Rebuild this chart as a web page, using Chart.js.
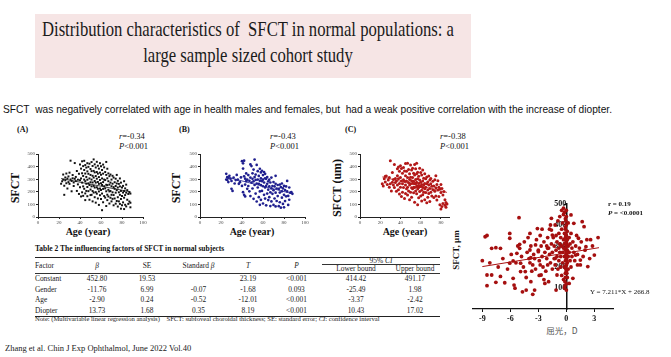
<!DOCTYPE html>
<html><head><meta charset="utf-8">
<script src="https://cdn.jsdelivr.net/npm/chart.js@4/dist/chart.umd.min.js"></script>
<style>
html,body{margin:0;padding:0;background:#fff;}
body{width:671px;height:357px;position:relative;overflow:hidden;font-family:"Liberation Serif",serif;color:#111;}
.abs{position:absolute;white-space:nowrap;}
canvas{position:absolute;}
.serif{font-family:"Liberation Serif",serif;}
.lab{font-weight:bold;font-size:12px;}
.stat{font-size:8.5px;line-height:10px;}
table{border-collapse:collapse;table-layout:fixed;font-family:"Liberation Serif",serif;font-size:7.4px;color:#1a1a1a;}
td{padding:0;text-align:center;height:10.5px;line-height:10px;}
</style></head>
<body>
<div class="abs" style="left:35px;top:14px;width:436px;height:64px;background:#f6e5e5;"></div>
<div id="t1" class="abs serif" style="left:248px;top:17px;font-size:21.5px;color:#1a1a1a;">Distribution characteristics of&nbsp; SFCT in normal populations: a</div>
<div id="t2" class="abs serif" style="left:248px;top:43px;font-size:21.5px;color:#1a1a1a;">large sample sized cohort study</div>
<div id="sub" class="abs" style="left:3px;top:103px;font-family:'Liberation Sans',sans-serif;font-size:11px;color:#111;">SFCT&nbsp; was negatively correlated with age in health males and females, but&nbsp; had a weak positive correlation with the increase of diopter.</div>

<div class="abs serif" style="left:17px;top:125px;font-size:8px;font-weight:bold;">(A)</div>
<div class="abs serif" style="left:179px;top:125px;font-size:8px;font-weight:bold;">(B)</div>
<div class="abs serif" style="left:345px;top:125px;font-size:8px;font-weight:bold;">(C)</div>

<div class="abs serif stat" style="left:119px;top:131px;"><i>r</i>=-0.34<br><i>P</i>&lt;0.001</div>
<div class="abs serif stat" style="left:270px;top:131px;"><i>r</i>=-0.43<br><i>P</i>&lt;0.001</div>
<div class="abs serif stat" style="left:440px;top:131px;"><i>r</i>=-0.38<br><i>P</i>&lt;0.001</div>

<div class="abs serif lab" style="left:15px;top:188px;transform:translate(-50%,-50%) rotate(-90deg);">SFCT</div>
<div class="abs serif lab" style="left:176px;top:188px;transform:translate(-50%,-50%) rotate(-90deg);">SFCT</div>
<div class="abs serif lab" style="left:337px;top:188px;transform:translate(-50%,-50%) rotate(-90deg);">SFCT (um)</div>

<div class="abs serif" style="left:88px;top:226px;font-size:10px;font-weight:bold;transform:translateX(-50%);">Age (year)</div>
<div class="abs serif" style="left:252px;top:226px;font-size:10px;font-weight:bold;transform:translateX(-50%);">Age (year)</div>
<div class="abs serif" style="left:405px;top:226px;font-size:10px;font-weight:bold;transform:translateX(-50%);">Age (year)</div>

<canvas id="cA" width="127" height="76" style="left:22px;top:150px;"></canvas>
<canvas id="cB" width="127" height="76" style="left:184px;top:150px;"></canvas>
<canvas id="cC" width="111" height="76" style="left:344px;top:150px;"></canvas>
<canvas id="cD" width="160" height="125" style="left:463px;top:198px;"></canvas>

<div class="abs serif" style="left:35px;top:244px;font-size:7.5px;font-weight:bold;">Table 2 The influencing factors of SFCT in normal subjects</div>
<div class="abs" style="left:35px;top:257px;">
<table id="tbl" style="width:405px;border-top:1.3px solid #222;border-bottom:1px solid #222;">
<colgroup><col style="width:37px"><col style="width:50px"><col style="width:50px"><col style="width:53px"><col style="width:46px"><col style="width:51px"><col style="width:68px"><col style="width:50px"></colgroup>
<tbody id="tb"></tbody>
</table></div>
<div class="abs serif" style="left:35px;top:315px;font-size:6.6px;color:#222;">Note: (Multivariable linear regression analysis)&nbsp;&nbsp;&nbsp; SFCT: subfoveal choroidal thickness; SE: standard error; <i>CI</i>: confidence interval</div>

<div class="abs serif" style="left:5px;top:343px;font-size:8.5px;color:#222;">Zhang et al. Chin J Exp Ophthalmol, June 2022 Vol.40</div>

<div class="abs serif" style="left:456px;top:250px;font-size:9px;font-weight:bold;transform:translate(-50%,-50%) rotate(-90deg);">SFCT, μm</div>
<div class="abs" style="left:562px;top:324px;font-size:8.5px;color:#555;font-family:'Noto Sans CJK SC',sans-serif;transform:translateX(-50%);">屈光，D</div>
<div class="abs serif" style="left:608px;top:200px;font-size:7px;font-weight:bold;line-height:9px;">r = 0.19<br><i>P</i> = &lt;0.0001</div>
<div class="abs serif" style="left:590px;top:288px;font-size:7px;">Y = 7.211*X + 266.8</div>

<script>
// ---------- data ----------
const ageA = [22,23,24,24,25,25,26,26,27,27,28,28,29,29,30,30,31,31,32,32,33,33,34,34,35,35,36,36,37,37,38,38,39,39,40,
40,40,41,41,41,42,42,42,42,43,43,43,43,44,44,44,44,45,45,45,45,45,46,46,46,46,47,47,47,47,47,48,48,48,48,49,49,49,49,50,50,50,50,50,
51,51,51,51,51,52,52,52,52,52,53,53,53,53,53,54,54,54,54,54,55,55,55,55,55,56,56,56,56,56,57,57,57,57,57,58,58,58,58,58,59,59,59,59,59,60,60,60,60,60,
61,61,61,61,61,62,62,62,62,62,63,63,63,63,64,64,64,64,65,65,65,65,65,66,66,66,66,66,67,67,67,67,68,68,68,68,69,69,69,69,70,70,70,70,
71,71,71,71,72,72,72,72,73,73,73,74,74,74,74,75,75,75,75,76,76,76,76,77,77,77,78,78,78,78,79,79,79,79,80,80,80,
81,81,81,82,82,82,82,83,83,83,84,84,84,85,85,86,86,87,87,88,88,88];
const sfctA = [264,283,296,337,248,176,314,291,345,268,305,226,322,277,352,263,298,447,286,204,333,307,274,246,428,303,285,318,207,365,296,259,343,183,292,
417,236,384,306,163,442,347,273,196,404,326,243,168,446,373,297,224,412,345,284,187,134,392,318,264,207,427,362,296,238,165,398,343,267,205,423,306,254,137,381,334,276,218,174,
436,364,297,243,176,405,327,274,206,124,457,366,313,247,194,418,354,286,234,157,393,325,273,197,114,438,357,304,236,185,407,344,278,224,147,384,317,263,203,96,427,352,294,226,173,402,335,267,214,143,
373,306,254,186,54,416,344,277,223,117,394,297,244,166,357,293,227,154,437,334,256,204,87,383,307,253,177,134,346,284,216,163,324,257,203,107,337,273,206,153,297,244,176,124,
327,264,196,144,313,237,174,93,276,224,147,304,246,193,106,334,266,213,127,287,234,157,83,263,196,124,306,243,176,104,273,207,143,66,234,167,94,
247,194,116,284,206,153,63,227,174,97,257,193,84,213,137,183,104,197,123,186,77,113];
const lineA_x = [22, 88];
const lineA_y = [305, 200];

const ageB = [25,25,26,26,27,27,28,29,30,30,31,32,33,34,35,36,37,38,39,40,40,41,41,41,42,42,42,43,43,43,44,44,45,45,46,46,47,47,48,48,48,49,49,50,50,50,51,51,51,52,52,52,53,53,53,54,54,54,55,55,55,56,56,56,57,57,57,57,58,58,58,58,59,59,59,60,60,60,60,61,61,61,62,62,62,62,63,63,63,64,64,64,65,65,65,66,66,66,67,67,67,68,68,68,69,69,70,70,70,71,71,72,72,72,72,73,73,74,74,75,75,76,76,76,77,77,78,78,78,79,79,80,80,80,81,81,82,82,83,83,84,84,85,85,86,87,88];
const sfctB = [343,297,294,316,312,277,327,304,286,224,207,313,266,293,334,296,263,276,314,247,443,426,384,197,447,323,176,304,257,163,346,284,296,224,333,246,287,204,417,313,166,404,273,347,303,226,376,283,144,456,317,254,337,294,186,413,266,123,364,297,234,326,263,157,383,287,203,97,354,306,253,136,367,284,207,333,296,244,107,357,274,176,343,307,234,146,303,247,93,317,264,186,283,217,134,296,243,157,274,196,87,313,227,124,246,184,277,213,96,243,147,327,264,193,84,226,127,254,166,223,86,257,194,117,237,74,266,204,153,227,104,247,176,77,214,126,243,164,286,203,167,96,234,137,193,197,184];
const lineB_x = [25, 88];
const lineB_y = [318, 185];

const ageC = [22,23,24,25,25,26,27,28,29,29,30,30,31,32,32,33,33,34,34,35,35,36,36,37,37,37,38,38,38,39,39,39,40,40,40,41,41,41,42,42,42,43,43,43,44,44,44,45,45,45,45,46,46,46,47,47,47,47,48,48,48,49,49,49,49,50,50,50,50,51,51,51,51,52,52,52,52,53,53,53,53,54,54,54,54,54,55,55,55,55,56,56,56,56,56,57,57,57,57,57,58,58,58,58,59,59,59,59,60,60,60,60,61,61,61,61,62,62,62,62,63,63,63,64,64,64,64,65,65,65,66,66,66,67,67,67,68,68,68,69,69,69,70,70,70,71,71,72,72,73,73,74,74,75,75,75,76,76,77,77,78,78,79,79,80,80,80,81,81,82,82,83,84,84,85,85,86];
const sfctC = [263,246,304,277,324,326,257,294,237,314,447,264,206,353,276,297,254,417,234,306,273,286,204,383,327,253,396,304,217,364,266,183,406,313,237,384,286,163,347,264,197,393,296,234,366,284,147,424,327,253,186,363,286,224,427,313,236,174,377,273,206,344,297,253,137,413,316,264,197,374,287,233,157,386,314,267,224,347,284,236,193,416,334,266,234,117,383,297,263,206,427,344,276,243,184,356,304,247,223,97,323,266,234,153,387,294,246,203,354,276,243,166,334,257,213,127,373,286,234,177,307,254,196,343,266,224,137,303,237,194,317,263,114,277,214,157,326,254,187,294,226,124,306,263,197,244,166,283,217,247,154,296,204,327,233,166,257,134,287,214,236,163,224,97,257,194,63,227,84,174,107,203,137,94,116,77,104];
const lineC_x = [22, 86];
const lineC_y = [318, 195];

const refrD = [-8.7,-8.5,-9.0,-8.5,-8.5,-8.0,-8.0,-7.55,-7.55,-7.06,-7.06,-6.6,-6.06,-6.06,-6.06,-5.7,-5.7,-5.6,-5.5,-5.07,-5.0,-5.0,-5.3,-4.9,-4.9,-4.7,-4.4,-4.3,-3.9,-3.9,-3.8,-3.6,-3.8,-3.4,-3.1,-3.3,-3.0,-2.8,-2.7,-2.3,-2.0,-1.6,-1.6,-1.5,-1.2,-1.0,-1.1,-0.5,-0.3,-0.2,0.5,0.8,1.3,1.7,1.9,1.0,1.2,1.5,2.1,2.6,3.0,3.4,2.3,0.7,0.3,
-4.0,-3.8,-3.6,-3.5,-3.3,-3.2,-3.0,-2.9,-2.8,-2.7,-2.6,-2.5,-2.4,-2.3,-2.2,-2.1,-2.0,-2.0,-1.9,-1.8,-1.8,-1.7,-1.6,-1.5,-1.5,-1.4,-1.3,-1.3,-1.2,-1.2,-1.1,-1.1,-1.0,-1.0,-0.9,-0.9,-0.8,-0.8,-0.8,-0.7,-0.7,-0.7,-0.6,-0.6,-0.6,-0.5,-0.5,-0.5,-0.4,-0.4,-0.4,-0.3,-0.3,-0.3,-0.3,-0.2,-0.2,-0.2,-0.2,-0.2,-0.1,-0.1,-0.1,-0.1,-0.1,-0.1,0,0,0,0,0,0,0,0,0,0,0,0.1,0.1,0.1,0.1,0.1,0.2,0.2,0.2,0.2,0.3,0.3,0.4,0.4,0.5,0.5,0.6,0.6,0.7,0.8,0.9,1.0,1.1,1.2,1.4,1.5,1.6,1.8,2.0,2.2,2.5,2.8,
-8.2,-7.3,-6.8,-6.3,-5.9,-5.4,-5.2,-4.8,-4.6,-4.5,-4.3,-4.2,-4.1,-3.9,-3.7,-3.4,-2.9,-2.6,-2.4,-2.1,-1.9,-1.7,
-0.15,-0.1,-0.05,0,0.05,-0.15,-0.1,-0.05,0,0.05,-0.15,-0.1,-0.05,0,0.05,-0.1,0,-0.05,-0.1,0];
const sfctD = [344,350,230,162,111,162,289,292,127,289,155,125,360,337,218,229,146,114,99,435,308,289,265,218,178,82,178,90,360,281,244,70,130,90,383,305,273,210,162,122,289,432,376,352,241,162,90,470,480,460,448,408,337,416,392,257,210,233,297,330,257,340,202,146,122,
240,300,210,260,190,330,280,230,350,300,250,200,320,270,180,240,340,210,290,260,380,220,310,270,190,340,240,300,400,210,280,350,250,320,420,190,290,360,230,310,270,440,200,340,250,380,300,160,270,410,220,330,290,140,450,360,250,310,200,100,390,280,230,340,170,430,300,260,350,210,120,470,400,180,240,320,90,280,370,220,330,150,300,250,410,190,340,270,230,310,360,200,290,250,320,270,230,300,350,260,290,210,320,250,280,330,240,300,
220,200,240,190,260,220,300,250,200,320,150,270,340,220,180,240,160,380,140,300,130,400,
110,150,190,260,310,330,380,420,210,170,130,290,350,440,230,200,270,310,360,250];
const lineD_x = [-9, 3.5];
const lineD_y = [202, 292];

const tickAgeAB = [0,20,40,60,80,100];
const tickAgeC = [0,20,40,60,80];
const tickSfct = [0,100,200,300,400,500];
const tickRefr = [-9,-6,-3,0,3];
const tickSfctD = [100,200,300,400,500];

const tableHead = ['Factor','β','SE','Standard β','T','P','Lower bound','Upper bound'];
const tableRows = [
 ['Constant','452.80','19.53','','23.19','<0.001','414.42','491.17'],
 ['Gender','-11.76','6.99','-0.07','-1.68','0.093','-25.49','1.98'],
 ['Age','-2.90','0.24','-0.52','-12.01','<0.001','-3.37','-2.42'],
 ['Diopter','13.73','1.68','0.35','8.19','<0.001','10.43','17.02']
];

// ---------- table ----------
(function(){
  const tb = document.getElementById('tb');
  const bb = 'border-bottom:0.8px solid #333;';
  let h = '<tr><td rowspan="2" style="text-align:left;'+bb+'">'+tableHead[0]+'</td>'+
   '<td rowspan="2" style="'+bb+'"><i>β</i></td>'+
   '<td rowspan="2" style="'+bb+'">'+tableHead[2]+'</td>'+
   '<td rowspan="2" style="'+bb+'">Standard <i>β</i></td>'+
   '<td rowspan="2" style="'+bb+'"><i>T</i></td>'+
   '<td rowspan="2" style="'+bb+'"><i>P</i></td>'+
   '<td colspan="2" style="height:6px;line-height:6px;'+bb+'">95% <i>CI</i></td></tr>'+
   '<tr><td style="height:8px;line-height:8px;'+bb+'">'+tableHead[6]+'</td><td style="height:8px;line-height:8px;'+bb+'">'+tableHead[7]+'</td></tr>';
  tableRows.forEach(r=>{
    h += '<tr>'+r.map((c,i)=>'<td'+(i===0?' style="text-align:left"':'')+'>'+c.replace('<','&lt;')+'</td>').join('')+'</tr>';
  });
  tb.innerHTML = h;
})();

// ---------- fit titles ----------
function fitCenter(id, w){
  const el = document.getElementById(id);
  const s = w / el.getBoundingClientRect().width;
  el.style.transformOrigin = '0 0';
  el.style.transform = 'translateX(-50%) scaleX(' + s + ')';
  el.style.transformOrigin = '50% 0';
  return s;
}
const s1 = fitCenter('t1', 412);
(function(){const el=document.getElementById('t2');el.style.transformOrigin='50% 0';el.style.transform='translateX(-50%) scaleX('+s1+')';})();
(function(){const el=document.getElementById('sub');const s=609/el.getBoundingClientRect().width;el.style.transformOrigin='0 0';el.style.transform='scaleX('+s+')';})();

// ---------- charts ----------
function pts(xs, ys){ return xs.map((x,i)=>({x:x, y:ys[i]})); }
function fixTicks(vals){ return function(s){ s.ticks = vals.map(v=>({value:v})); }; }

function scatterChart(id, xs, ys, lx, ly, color, style, radius, xmax, xticks, yAxisW){
  return new Chart(document.getElementById(id), {
    type:'scatter',
    data:{datasets:[
      {data:pts(lx,ly), showLine:true, borderColor:color, borderWidth:0.8, pointRadius:0, order:0},
      {data:pts(xs,ys), backgroundColor:color, borderColor:color, borderWidth:0, pointStyle:style, pointRadius:radius, order:1}
    ]},
    options:{
      responsive:false, animation:false, devicePixelRatio:1,
      layout:{padding:{top:4,right:6,left:0,bottom:0}},
      plugins:{legend:{display:false}, tooltip:{enabled:false}},
      scales:{
        x:{type:'linear', min:0, max:xmax, afterBuildTicks:fixTicks(xticks),
           ticks:{font:{size:5, family:'Liberation Serif'}, color:'#444', padding:1, maxRotation:0},
           grid:{drawOnChartArea:false, tickLength:2, color:'#222'}, border:{color:'#222', width:1},
           afterFit:s=>{s.height=9;}},
        y:{type:'linear', min:0, max:500, afterBuildTicks:fixTicks(tickSfct),
           ticks:{font:{size:5, family:'Liberation Serif'}, color:'#444', padding:1},
           grid:{drawOnChartArea:false, tickLength:2, color:'#222'}, border:{color:'#222', width:1},
           afterFit:s=>{s.width=yAxisW;}}
      }
    }
  });
}
scatterChart('cA', ageA, sfctA, lineA_x, lineA_y, '#111', 'rect', 1.4, 100, tickAgeAB, 16);
scatterChart('cB', ageB, sfctB, lineB_x, lineB_y, '#1f1f8f', 'circle', 1.35, 100, tickAgeAB, 16);
scatterChart('cC', ageC, sfctC, lineC_x, lineC_y, '#b31818', 'circle', 1.5, 88, tickAgeC, 16);

new Chart(document.getElementById('cD'), {
  type:'scatter',
  data:{datasets:[
    {data:pts(lineD_x,lineD_y), showLine:true, borderColor:'#a81010', borderWidth:1, pointRadius:0, order:0},
    {data:pts(refrD,sfctD), backgroundColor:'#a50f0f', borderColor:'#a50f0f', borderWidth:0, pointRadius:1.9, order:1}
  ]},
  options:{
    responsive:false, animation:false, devicePixelRatio:1,
    layout:{padding:{top:6,right:10,left:10,bottom:0}},
    plugins:{legend:{display:false}, tooltip:{enabled:false}},
    scales:{
      x:{type:'linear', min:-10, max:5, afterBuildTicks:fixTicks(tickRefr),
         ticks:{font:{size:8, family:'Liberation Serif', weight:'bold'}, color:'#111', padding:2, maxRotation:0},
         grid:{drawOnChartArea:false, tickLength:3, color:'#111'}, border:{color:'#111', width:1.2},
         afterFit:s=>{s.height=14;}},
      y:{type:'linear', min:0, max:500, position:{x:0}, afterBuildTicks:fixTicks(tickSfctD),
         ticks:{font:{size:8, family:'Liberation Serif', weight:'bold'}, color:'#111', padding:1},
         grid:{drawOnChartArea:false, tickLength:2, color:'#111'}, border:{color:'#111', width:1.5}}
    }
  }
});
</script>
</body></html>
